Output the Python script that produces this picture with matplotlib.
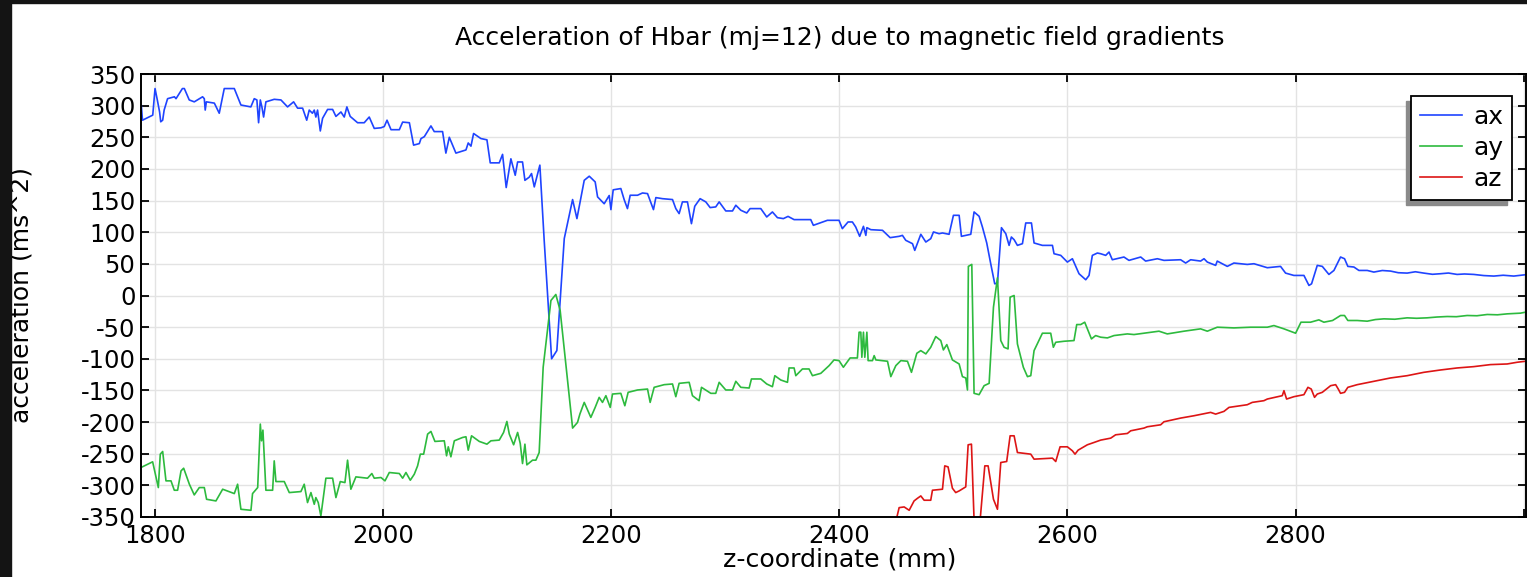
import matplotlib
matplotlib.use("Agg")
import matplotlib.pyplot as plt
from matplotlib.patches import Rectangle

plt.rcParams['font.family'] = ['DejaVu Sans']
plt.rcParams['axes.unicode_minus'] = False

# ax (blue)
ax_z = [1788, 1789, 1798, 1800, 1802, 1804, 1805, 1806.7, 1808, 1811, 1817, 1818.4, 1824, 1825.7,
        1830, 1834.4, 1841.7, 1843.2, 1844, 1845, 1852, 1856.3, 1860.7, 1869.5, 1875.3, 1884,
        1887, 1889.3, 1890.8, 1892.3, 1893.7, 1895.2, 1897.2, 1904.5, 1910.4, 1916.2, 1921.5,
        1925, 1929.4, 1933, 1935.2, 1938, 1939.6, 1941, 1942.5, 1944.9, 1946.9, 1951.3, 1955.7,
        1958.6, 1963, 1965.9, 1968.2, 1971.1, 1977.6, 1983.4, 1987.8, 1992.2, 1998.1,
        2001, 2003.4, 2006.9, 2014.2, 2017.1, 2023, 2026.7, 2031.7, 2033.2, 2036.1, 2041.9,
        2044.8, 2052.1, 2055, 2058, 2063.8, 2072.6, 2074.6, 2077, 2079.3, 2085.7, 2091, 2093.9,
        2101.8, 2104.7, 2107.9, 2112, 2115.8, 2117.9, 2122.2, 2124.3, 2128.1, 2130.1, 2132.5,
        2137.4, 2141.2, 2147.7, 2152.3, 2158.8, 2166.1, 2169.9, 2176.3, 2180.7, 2185.9, 2188,
        2193.8, 2198.2, 2199.7, 2201.7, 2208.4, 2211.3, 2214.2, 2216.6, 2223, 2227.4, 2231.8,
        2237, 2239.1, 2244.9, 2253.7, 2256.6, 2259.5, 2262.4, 2266.8, 2270.3, 2273.2, 2277.9,
        2282.9, 2286.7, 2291.6, 2294.6, 2300.4, 2306.3, 2309.2, 2313.6, 2318.8, 2321.7, 2331.1,
        2336.3, 2341.3, 2345.7, 2350.9, 2355, 2360.3, 2374.9, 2377.2, 2389.5, 2399.7, 2402.6,
        2407.6, 2411.4, 2414.3, 2417.8, 2421.1, 2423.2, 2424.1, 2427.6, 2437.8, 2444.5,
        2452.4, 2455.3, 2458.2, 2464.1, 2466.1, 2471.4, 2475.8, 2480.1, 2482.5, 2487.4, 2490.4,
        2496.2, 2500, 2505, 2507, 2515.2, 2518.1, 2522.5, 2525.4, 2529.2, 2532.7, 2536.2,
        2538.6, 2542.1, 2545.9, 2548.8, 2550.8, 2553.2, 2556.1, 2560.5, 2563.4, 2568.4, 2570.7,
        2578, 2586.8, 2588.2, 2594.1, 2599.9, 2604.3, 2610.1, 2616, 2618.9, 2621.8, 2626.2,
        2629.1, 2633.5, 2636.4, 2639.3, 2649.5, 2653.9, 2664.2, 2668.5, 2678.8, 2684.6, 2699.2,
        2703.6, 2708, 2716.7, 2719.7, 2722.6, 2729.9, 2731.3, 2740.1, 2745.9, 2757.6, 2763.5,
        2775.2, 2786.8, 2791.2, 2798.5, 2807.3, 2811.7, 2814, 2819, 2823.4, 2829.2, 2833.6,
        2839.4, 2842.9, 2845.8, 2851.1, 2855.5, 2862.8, 2868.6, 2876, 2883.2, 2890, 2897.8,
        2905, 2912.4, 2920, 2927, 2934, 2941.6, 2948, 2956.2, 2965, 2973.8, 2982, 2991.3, 3001.5]
ax_val = [300, 277, 285, 327, 309, 290, 274.5, 277, 293, 311, 314, 311, 327, 327,
          309, 306, 314, 311, 293, 306, 304, 288, 327, 327, 301, 298,
          311, 309, 273, 309, 298, 282, 306, 310, 309, 298, 306,
          296, 296, 277, 293, 288, 293, 282, 293, 260, 280, 294, 294,
          283, 290, 282, 298, 283, 273, 273, 282, 264, 265,
          267, 277, 262, 262, 274, 273, 237.6, 240, 248, 251, 268,
          259, 259, 225, 250, 225, 230, 241, 236, 256, 248, 246, 209.6,
          209.6, 223, 170.6, 216, 190, 211, 211, 182, 187, 192.7, 171.6,
          206, 87, -100, -87, 90, 151.6, 121.5, 182, 188.5, 179.5, 155.8,
          145, 158, 135.7, 167, 169, 151.6, 137.3, 158.4, 158.4, 162, 161,
          135.7, 154.7, 153, 151.6, 137.3, 129.4, 147.9, 147.9, 113.5, 141, 153,
          147.9, 138.9, 140, 147.9, 133.6, 133.6, 142.6, 134.7, 130.4, 137.3, 137.3,
          124.1, 132, 123, 121.5, 125, 119.9, 119.9, 110.9, 118.8, 118.8, 105.6,
          116.2, 116.2, 108.3, 93.5, 109.3, 95, 107.2, 104, 103, 91.4,
          93.5, 95, 87.2, 81.9, 71.3, 96.7, 84.5, 89.8, 100.4, 97.7, 98.8,
          96.7, 126.7, 126.7, 93.5, 96.7, 132, 125.2, 108.3, 83, 50.2, 18.5,
          19.6, 107.2, 97.7, 79.2, 92.4, 88.2, 79.2, 81.9, 114.6, 114.6, 83,
          79.2, 79.2, 66, 63.4, 52.8, 58.1, 34.4, 24.9, 31.7, 63.4, 67.1,
          66, 63.4, 68.7, 56.5, 60.8, 55.5, 60.8, 54.4, 58.1, 55.5, 56.5,
          51.3, 56.5, 54.4, 58.1, 52.8, 47.6, 54.4, 46, 51.3, 49.1, 50.2,
          43.9, 46, 35.4, 31.7, 31.7, 15.9, 18.5, 47.6, 46, 33.3, 39.6,
          60.8, 58.1, 46, 45, 39.6, 39.6, 37, 39.5, 38.6, 36, 35.4,
          37.5, 35.4, 33.5, 34.4, 35.5, 33.3, 34, 33.3, 31.5, 30.7, 32, 30.7, 32.8]

# ay (green)
ay_z = [1787.7, 1797.9, 1802.9, 1804.6, 1806.7, 1809.6, 1814, 1816.9, 1819.8, 1822.8, 1825.1,
        1830.1, 1834.4, 1838.8, 1843.2, 1845.2, 1853.4, 1859.3, 1869.5, 1872.4, 1875.3, 1884.1,
        1885.5, 1890, 1892.3, 1893.4, 1894.6, 1897.2, 1903.1, 1904.5, 1906, 1913.3, 1917.7,
        1927.9, 1930.8, 1933.7, 1936.7, 1939.6, 1941, 1943.1, 1945.4, 1949.8, 1955.7, 1958.6,
        1962.4, 1966.5, 1968.8, 1971.7, 1976.1, 1986.3, 1990.1, 1992.2, 1998.1,
        2001.6, 2005.4, 2014.2, 2017.1, 2020, 2023.8, 2027.3, 2030.2, 2032.6, 2035.5, 2039,
        2041.9, 2045.4, 2053.6, 2055.6, 2057.1, 2059.4, 2062.4, 2069.7, 2072.6, 2074.6, 2077.5,
        2084.3, 2091, 2094.5, 2101.8, 2105.6, 2108.5, 2110.6, 2114.4, 2117.9, 2120.2, 2122.2,
        2124.3, 2126, 2131, 2133.9, 2136.8, 2140.3, 2147.1, 2151.4, 2155.2, 2166.1, 2170.4,
        2172.5, 2176.3, 2182.1, 2185.9, 2189.4, 2192.3, 2195.3, 2199.1, 2201.1, 2208.4,
        2211.9, 2214.8, 2223, 2231.8, 2234.1, 2237.6, 2246.4, 2253.7, 2256.6, 2259.5, 2268.3,
        2271.2, 2277, 2279.1, 2287.3, 2291.6, 2294.6, 2300.4, 2306.3, 2309.2, 2313.6, 2320.9,
        2322.9, 2331.1, 2336.3, 2341.3, 2343.4, 2348.6, 2354.5, 2355.9, 2360.3, 2361.8, 2367.6,
        2373.4, 2376.4, 2383.7, 2391, 2395.3, 2399.7, 2403.5, 2409.4, 2415.8, 2417.3, 2418.8,
        2419.7, 2421.1, 2422.3, 2424.1, 2425.2, 2429, 2430.5, 2432, 2442.2, 2445.1, 2449.5,
        2453.9, 2459.7, 2463.2, 2467.9, 2471.4, 2475.8, 2480.1, 2484.5, 2488.9, 2491.2, 2494.2,
        2499.1, 2505, 2507.9, 2510.8, 2512.3, 2513.1, 2516.1, 2518.1, 2522.5, 2526.9, 2531.3,
        2535.1, 2538.6, 2541.5, 2544.4, 2547.9, 2549.7, 2553.2, 2556.1, 2561.3, 2564.9, 2567.8,
        2570.7, 2578, 2585.3, 2587.6, 2589.7, 2597, 2605.7, 2608.1, 2611.6, 2615.1, 2621,
        2624.7, 2629.1, 2635, 2640.8, 2652.5, 2658.3, 2667.1, 2680.2, 2687.5, 2702.1, 2716.7,
        2722.6, 2731.3, 2745.9, 2760.6, 2775.2, 2781, 2789.8, 2800, 2804.7, 2813.1, 2820.4,
        2824.8, 2832.4, 2839.4, 2842.9, 2845.8, 2854, 2862.8, 2870, 2877.4, 2887, 2897.8,
        2906, 2915.3, 2924, 2932.9, 2941, 2950.4, 2959, 2968, 2977, 2985.5, 2997.1, 3001.5]
ay_val = [-271.8, -262.8, -303.5, -250.7, -246.5, -292.9, -292.9, -307.7, -307.7, -277.1, -272.9,
          -298.2, -315.1, -303.5, -303.5, -322, -324.6, -306.1, -313, -298.2, -337.8, -339.4,
          -313, -303.5, -203.2, -229.6, -212.7, -307.7, -307.7, -261.3, -294, -294, -311.4,
          -309.8, -298.2, -327.2, -311.4, -329.9, -319.3, -327.2, -348.3, -288.7, -288.7, -319.3,
          -294, -295.6, -260.2, -306.1, -286.6, -288.7, -281.3, -288.7, -287.6,
          -292.9, -279.7, -281.3, -288.7, -279.7, -291.9, -282.4, -269.2, -250.7, -250.7, -219,
          -214.8, -230.6, -229.6, -253.3, -239.1, -254.9, -229.6, -224.3, -223.2, -244.4, -221.7,
          -230.6, -234.9, -229.6, -228.5, -216.4, -199, -219, -235.9, -216.4, -233.8, -265.5,
          -234.9, -267.6, -260.2, -260.2, -248.1, -113.4, -7.9, 1.6, -23.7, -209.5, -200.6,
          -187.3, -168.9, -192.6, -176.8, -161, -168.9, -158.3, -176.8, -155.7, -154.6,
          -174.2, -153, -149.3, -147.8, -168.9, -145.1, -140.9, -139.8, -159.9, -138.8, -137.2,
          -158.3, -166.2, -145.1, -154.6, -154.6, -137.2, -149.3, -149.3, -135.6, -145.1, -146.2,
          -131.9, -131.9, -139.8, -144.1, -126.7, -133.5, -137.2, -114.5, -114.5, -126.7, -116.1,
          -116.1, -126.7, -123, -110.8, -101.8, -102.9, -113.4, -98.7, -98.7, -58, -58,
          -97.6, -58, -97.6, -58, -102.9, -102.9, -95, -101.8, -103.9, -128.2, -110.8,
          -102.9, -103.9, -121.4, -91.3, -87.1, -92.3, -81.8, -64.9, -71.2, -86, -77.6,
          -101.8, -108.2, -128.2, -130.3, -149.3, 46, 49.1, -154.6, -156.7, -142.5, -138.8,
          -18.4, 28, -71.2, -81.8, -84.4, -2.6, 0, -76.5, -113.4, -128.2, -126.7,
          -87.1, -59.6, -59.6, -81.8, -73.9, -72.3, -71.2, -45.9, -45.9, -42.2, -68.6,
          -63.3, -65.9, -67, -63.3, -60.7, -61.7, -59.6, -56.4, -60.7, -56.4, -52.7,
          -56.4, -50.1, -51.2, -50.1, -50.1, -47.5, -52.7, -59.6, -42.2, -42.2, -38.5,
          -42.2, -39.5, -31.6, -31.6, -39.5, -39.5, -40.6, -38, -36.9, -37.5, -35.3,
          -36, -35.3, -34, -33.2, -33.5, -31.6, -32, -30, -30.5, -29, -27.9, -26.4]

# az (red)
az_z = [2450.3, 2452.4, 2456.8, 2461.2, 2465.5, 2468.5, 2471.4, 2474.3, 2480.1, 2481.6, 2490.4,
        2492.4, 2495.3, 2499.1, 2502, 2505, 2510.8, 2512.9, 2515.8, 2518.1, 2523.4, 2527.5,
        2530.4, 2535.1, 2538.6, 2541.5, 2546.7, 2549.7, 2553.2, 2556.1, 2567.8, 2570.7, 2586.8,
        2589.7, 2593.5, 2599.9, 2604.3, 2606.6, 2609.3, 2617.4, 2623.3, 2629.1, 2637.9, 2642.2,
        2652.5, 2655.4, 2667.1, 2670, 2681.7, 2684.6, 2699.2, 2710.9, 2725.5, 2729.9, 2737.2,
        2741.6, 2757.6, 2762, 2772.2, 2775.2, 2788.3, 2789.8, 2792.1, 2798.5, 2807.3, 2810.8,
        2813.7, 2816.6, 2819, 2823.4, 2830.7, 2835.1, 2837.4, 2839.4, 2842.9, 2845.8, 2854,
        2868.6, 2883.2, 2897.8, 2912.4, 2927, 2941.6, 2956.2, 2970.8, 2985.5, 2994.2, 3001.5]
az_val = [-351, -335.2, -334.1, -339.4, -324.6, -320.4, -316.7, -323.5, -323.5, -307.7, -306.1,
          -269.2, -270.8, -304.5, -311.4, -308.8, -302.4, -235.9, -234.9, -355, -355, -269.2,
          -269.2, -322, -337.8, -263.9, -262.3, -221.7, -221.7, -248.1, -250.7, -258.6, -257,
          -262.3, -239.1, -239.1, -245.4, -250.7, -244.4, -235.9, -232.2, -228.5, -225.4, -220.1,
          -218, -213.8, -209.5, -207.4, -204.3, -199.5, -193.7, -190, -184.7, -187.4, -183.1,
          -176.8, -172.6, -168.9, -166.2, -163.6, -158.3, -150.4, -163.6, -159.9, -156.7, -145.1,
          -147.8, -160.9, -155.7, -153, -142.5, -140.9, -147.8, -154.6, -153, -145.1, -140.9,
          -135.6, -130.3, -126.7, -121.4, -117.7, -114.5, -112.4, -109.2, -108.2, -105.5, -103.9]

xticks = [1800, 2000, 2200, 2400, 2600, 2800, 3000]
xticklabels = ['1800', '2000', '2200', '2400', '2600', '2800', '']  # 3000 falls off the edge
yticks = list(range(-350, 351, 50))

W, H = 1527, 577
fig = plt.figure(figsize=(W / 100, H / 100), dpi=100)
fig.patch.set_facecolor('white')

ax = fig.add_axes([141 / W, 1 - 517 / H, 1385 / W, 443 / H])
ax.plot(ax_z, ax_val, color='#1f44ff', lw=1.2, label='ax')
ax.plot(ay_z, ay_val, color='#2dba3e', lw=1.2, label='ay')
ax.plot(az_z, az_val, color='#dd1515', lw=1.2, label='az')

ax.set_xlim(1787.7, 3002)
ax.set_ylim(-350, 350)
ax.set_xticks(xticks)
ax.set_xticklabels(xticklabels)
ax.set_yticks(yticks)
ax.grid(True, color='#e3e3e3', lw=1)
ax.set_axisbelow(True)
ax.tick_params(direction='in', top=True, right=True, length=6, width=1.3, labelsize=17.5)
ax.tick_params(axis='x', pad=5)
ax.tick_params(axis='y', pad=4)
for s in ax.spines.values():
    s.set_linewidth(1.4)

leg = ax.legend(loc='upper right', bbox_to_anchor=(0.990, 0.950), borderaxespad=0,
                fancybox=False, framealpha=1, edgecolor='black', fontsize=18,
                handlelength=1.7, handletextpad=0.45, labelspacing=0.28, borderpad=0.35)
leg.get_frame().set_linewidth(1.3)
leg.set_zorder(6)

fig.text(840 / W, 1 - 38 / H, 'Acceleration of Hbar (mj=12) due to magnetic field gradients',
         ha='center', va='center', fontsize=18)
fig.text(840 / W, 1 - 560 / H, 'z-coordinate (mm)', ha='center', va='center', fontsize=18.2)
fig.text(22 / W, 1 - 295 / H, 'acceleration (ms^2)', ha='center', va='center',
         rotation=90, fontsize=18)

# dark screenshot border
fig.patches.append(Rectangle((0, 0), 11 / W, 1, transform=fig.transFigure,
                             color='#141414', zorder=10))
fig.patches.append(Rectangle((0, 1 - 3 / H), 1, 3 / H, transform=fig.transFigure,
                             color='#141414', zorder=10))

# legend shadow (offset to lower left), drawn inside the axes under the legend
fig.canvas.draw()
bb = leg.get_window_extent()
inv = ax.transAxes.inverted()
(x0, y0), (x1, y1) = inv.transform([(bb.x0 - 5, bb.y0 - 5), (bb.x1 - 5, bb.y1 - 5)])
ax.add_patch(Rectangle((x0, y0), x1 - x0, y1 - y0, transform=ax.transAxes,
                       color='#8a8a8a', zorder=5, clip_on=False))

fig.savefig('out.png', dpi=100)
